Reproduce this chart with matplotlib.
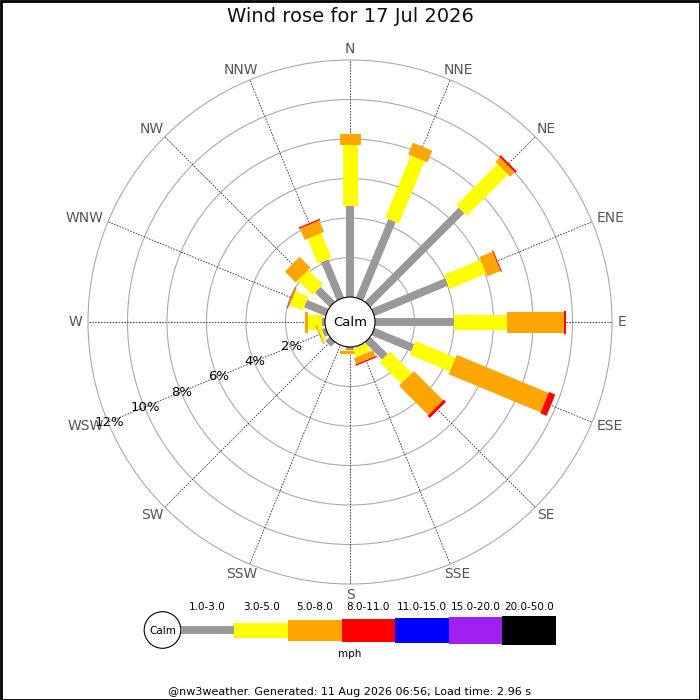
import numpy as np
import matplotlib
matplotlib.use('Agg')
import matplotlib.pyplot as plt
from matplotlib.patches import Polygon, Circle, Rectangle

# Data: percentage of time per direction and speed bin
directions = ['N', 'NNE', 'NE', 'ENE', 'E', 'ESE', 'SE', 'SSE',
              'S', 'SSW', 'SW', 'WSW', 'W', 'WNW', 'NW', 'NNW']
speed_bins = ['1.0-3.0', '3.0-5.0', '5.0-8.0', '8.0-11.0', '11.0-15.0', '15.0-20.0', '20.0-50.0']
bin_colors = ['#999999', '#ffff00', '#ffa500', '#ff0000', '#0000ff', '#a020f0', '#000000']

pct_1_3 = [4.61, 4.30, 6.72, 4.04, 4.02, 2.17, 1.23, 0.05, 0.15, 0.0, 0.30, 0.20, 0.15, 1.17, 1.04, 2.09]
pct_3_5 = [3.09, 3.40, 2.95, 2.00, 2.68, 2.20, 1.55, 0.45, 0.03, 0.0, 0.0, 0.15, 0.70, 0.71, 1.05, 1.36]
pct_5_8 = [0.55, 0.64, 0.33, 0.73, 2.88, 5.03, 2.09, 0.33, 0.17, 0.0, 0.0, 0.07, 0.16, 0.06, 0.78, 0.63]
pct_8_11 = [0.0, 0.0, 0.10, 0.05, 0.09, 0.35, 0.16, 0.07, 0.0, 0.0, 0.0, 0.0, 0.0, 0.03, 0.0, 0.07]

ring_pcts = [2, 4, 6, 8, 10, 12]

title = 'Wind rose for 17 Jul 2026'
footer = '@nw3weather. Generated: 11 Aug 2026 06:56; Load time: 2.96 s'

# Layout (pixel coordinates, y down)
cx, cy = 350, 322
calm_r = 25
px_per_pct = 19.75
bar_widths = [8, 15, 21, 23, 25, 27, 29]


def radius(p):
    return calm_r + p * px_per_pct


def unit(deg):
    a = np.radians(deg)
    return np.array([np.sin(a), -np.cos(a)]), np.array([np.cos(a), np.sin(a)])


fig = plt.figure(figsize=(7, 7), dpi=100)
ax = fig.add_axes([0, 0, 1, 1])
ax.set_xlim(0, 700)
ax.set_ylim(700, 0)
ax.axis('off')
renderer = fig.canvas.get_renderer()

c = np.array([cx, cy])
r_out = radius(ring_pcts[-1])

# rings
for p in ring_pcts:
    ax.add_patch(Circle(c, radius(p), fill=False, edgecolor='#aaaaaa', lw=0.8, zorder=1))

# spokes and labels (label box pushed outward from the ring point)
for i, d in enumerate(directions):
    u, v = unit(i * 22.5)
    end = c + u * r_out
    ax.plot([cx, end[0]], [cy, end[1]], color='#333333', lw=0.6,
            linestyle=(0, (2, 1.5)), zorder=2)
    t = ax.text(0, 0, d, ha='center', va='center', fontsize=10, color='#555555')
    bb = t.get_window_extent(renderer)
    w, h = bb.width, 14
    t.set_position((end[0] + u[0] * (w / 2 + 6), end[1] + u[1] * (h / 2 + 4)))

# bars, drawn NNW -> N so that SSE sits on top of S
series = [pct_1_3, pct_3_5, pct_5_8, pct_8_11]
for i in reversed(range(len(directions))):
    u, v = unit(i * 22.5)
    start = 0.0
    for k, s in enumerate(series):
        val = s[i]
        if val <= 0:
            continue
        r0, r1 = radius(start), radius(start + val)
        hw = bar_widths[k] / 2
        pts = [c + u * r0 - v * hw, c + u * r1 - v * hw,
               c + u * r1 + v * hw, c + u * r0 + v * hw]
        ax.add_patch(Polygon(pts, closed=True, facecolor=bin_colors[k],
                             edgecolor='none', zorder=3))
        start += val

# calm circle
ax.add_patch(Circle(c, calm_r, facecolor='white', edgecolor='black', lw=0.8, zorder=5))
ax.text(cx, cy + 1, 'Calm', ha='center', va='center', fontsize=9.5, zorder=6)

# percentage labels along WSW
u, v = unit(247.5)
for p in ring_pcts:
    lp = c + u * radius(p)
    ax.text(lp[0] + 1, lp[1], f'{p}%', ha='center', va='center', fontsize=9.5, zorder=6)

# title
ax.text(350, 17, title, ha='center', va='center', fontsize=14, color='#111111')

# legend
ax.add_patch(Circle((162.5, 630), 18.3, facecolor='white', edgecolor='black', lw=0.8))
ax.text(162.5, 631, 'Calm', ha='center', va='center', fontsize=7.5)
lx0, lw_box = 180.8, 53.6
for k, lab in enumerate(speed_bins):
    x0 = lx0 + k * lw_box
    h = bar_widths[k]
    ax.add_patch(Rectangle((x0, 630 - h / 2), lw_box, h, facecolor=bin_colors[k], edgecolor='none'))
    ax.text(x0 + lw_box / 2, 607, lab, ha='center', va='center', fontsize=7.5)
ax.text(350, 654, 'mph', ha='center', va='center', fontsize=7.5)

ax.text(350, 692, footer, ha='center', va='center', fontsize=8)

# border
ax.add_patch(Rectangle((0.5, 0.5), 699, 699, fill=False, edgecolor='black', lw=2, zorder=10))

fig.savefig('out.png', dpi=100)
